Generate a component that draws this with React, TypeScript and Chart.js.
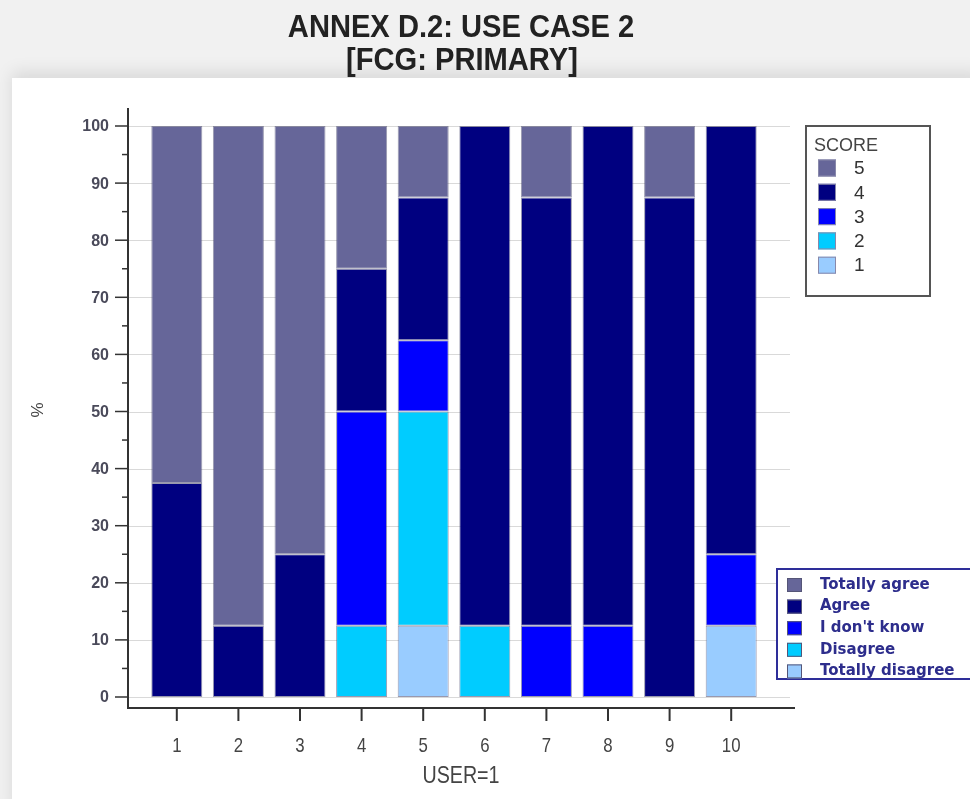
import React, { useEffect, useRef } from "react";
import { Chart, registerables } from "chart.js";

Chart.register(...registerables);

// ---- data ----
const users = ["1", "2", "3", "4", "5", "6", "7", "8", "9", "10"];
const score1 = [0, 0, 0, 0, 12.5, 0, 0, 0, 0, 12.5];
const score2 = [0, 0, 0, 12.5, 37.5, 12.5, 0, 0, 0, 0];
const score3 = [0, 0, 0, 37.5, 12.5, 0, 12.5, 12.5, 0, 12.5];
const score4 = [37.5, 12.5, 25, 25, 25, 87.5, 75, 87.5, 87.5, 75];
const score5 = [62.5, 87.5, 75, 25, 12.5, 0, 12.5, 0, 12.5, 0];
const yTicks = [0, 10, 20, 30, 40, 50, 60, 70, 80, 90, 100];
const scoreNames = ["5", "4", "3", "2", "1"];
const responseNames = ["Totally agree", "Agree", "I don't know", "Disagree", "Totally disagree"];
const titleLines = ["ANNEX D.2: USE CASE 2", "[FCG: PRIMARY]"];
const xTitle = "USER=1";
const yTitle = "%";
const legendTitle = "SCORE";

// colours for score 5..1
const legendColors = ["#666699", "#000080", "#0000ff", "#00ccff", "#99ccff"];

function narrowText(ctx: any, text: string, x: number, y: number, sx: number) {
  ctx.save();
  ctx.translate(x, y);
  ctx.scale(sx, 1);
  ctx.fillText(text, 0, 0);
  ctx.restore();
}

const decorPlugin = {
  id: "decor",
  beforeDatasetsDraw(chart: any) {
    const { ctx, chartArea } = chart;
    const y = chart.scales.y;
    const left = chartArea.left - 18;
    const right = chartArea.right + 28;
    ctx.save();
    ctx.strokeStyle = "#d9d9d9";
    ctx.lineWidth = 1;
    yTicks.forEach((v) => {
      const py = Math.round(y.getPixelForValue(v)) + 0.5;
      ctx.beginPath();
      ctx.moveTo(left, py);
      ctx.lineTo(right, py);
      ctx.stroke();
    });
    ctx.restore();
  },
  afterDraw(chart: any) {
    const { ctx, chartArea } = chart;
    const x = chart.scales.x;
    const y = chart.scales.y;
    const axisX = chartArea.left - 18;
    const axisY = chartArea.bottom + 11;
    const axisTop = chartArea.top - 18;
    const axisRight = chartArea.right + 33;
    ctx.save();
    ctx.strokeStyle = "#333333";
    ctx.lineWidth = 2;
    // axis lines
    ctx.beginPath();
    ctx.moveTo(axisX, axisTop);
    ctx.lineTo(axisX, axisY);
    ctx.lineTo(axisRight, axisY);
    ctx.stroke();
    // y ticks
    ctx.lineWidth = 1.5;
    for (let i = 0; i < yTicks.length; i++) {
      const v = yTicks[i];
      const py = y.getPixelForValue(v);
      ctx.beginPath();
      ctx.moveTo(axisX - 13, py);
      ctx.lineTo(axisX, py);
      ctx.stroke();
      if (i < yTicks.length - 1) {
        const pm = y.getPixelForValue((v + yTicks[i + 1]) / 2);
        ctx.beginPath();
        ctx.moveTo(axisX - 6, pm);
        ctx.lineTo(axisX, pm);
        ctx.stroke();
      }
    }
    ctx.fillStyle = "#4a4a5a";
    ctx.font = "bold 16px 'Liberation Sans', Arial, sans-serif";
    ctx.textAlign = "right";
    ctx.textBaseline = "middle";
    yTicks.forEach((v) => {
      ctx.fillText(String(v), axisX - 19, y.getPixelForValue(v) + 1);
    });
    // x ticks
    ctx.lineWidth = 2;
    users.forEach((u, i) => {
      const px = x.getPixelForValue(i);
      ctx.beginPath();
      ctx.moveTo(px, axisY);
      ctx.lineTo(px, axisY + 13);
      ctx.stroke();
    });
    ctx.font = "21px 'Liberation Sans', Arial, sans-serif";
    ctx.textAlign = "center";
    ctx.fillStyle = "#444444";
    users.forEach((u, i) => {
      narrowText(ctx, u, x.getPixelForValue(i), axisY + 38, 0.8);
    });
    // axis titles
    ctx.font = "24px 'Liberation Sans', Arial, sans-serif";
    narrowText(ctx, xTitle, 461, axisY + 68, 0.82);
    ctx.save();
    ctx.translate(38, 410);
    ctx.rotate(-Math.PI / 2);
    ctx.font = "17px 'Liberation Sans', Arial, sans-serif";
    ctx.fillText(yTitle, 0, 0);
    ctx.restore();

    // chart title
    ctx.fillStyle = "#222222";
    ctx.font = "bold 32px 'Liberation Sans', Arial, sans-serif";
    narrowText(ctx, titleLines[0], 461, 28, 0.91);
    narrowText(ctx, titleLines[1], 462, 61, 0.91);

    // SCORE legend
    ctx.fillStyle = "#ffffff";
    ctx.fillRect(806, 126, 124, 170);
    ctx.strokeStyle = "#555555";
    ctx.lineWidth = 2;
    ctx.strokeRect(806, 126, 124, 170);
    ctx.fillStyle = "#444444";
    ctx.textAlign = "left";
    ctx.font = "18px 'Liberation Sans', Arial, sans-serif";
    ctx.fillText(legendTitle, 814, 146);
    scoreNames.forEach((s, i) => {
      const cy = 168 + i * 24.3;
      ctx.fillStyle = legendColors[i];
      ctx.fillRect(818, cy - 8.5, 18, 17);
      ctx.strokeStyle = "#8888aa";
      ctx.lineWidth = 1;
      ctx.strokeRect(818.5, cy - 8, 17, 16);
      ctx.fillStyle = "#333333";
      ctx.font = "19px 'Liberation Sans', Arial, sans-serif";
      ctx.fillText(s, 854, cy + 1);
    });

    // response legend
    ctx.fillStyle = "#ffffff";
    ctx.fillRect(777, 569, 200, 110);
    ctx.strokeStyle = "#2e2e99";
    ctx.lineWidth = 2;
    ctx.strokeRect(777, 569, 200, 110);
    responseNames.forEach((s, i) => {
      const cy = 585 + i * 21.6;
      ctx.fillStyle = legendColors[i];
      ctx.fillRect(787, cy - 7, 15, 14);
      ctx.strokeStyle = "#555577";
      ctx.lineWidth = 1;
      ctx.strokeRect(787.5, cy - 6.5, 14, 13);
      ctx.fillStyle = "#2d2d8c";
      ctx.font = "bold 15px 'DejaVu Sans', Verdana, sans-serif";
      ctx.fillText(s, 820, cy);
    });
    ctx.restore();
  },
};

export default function App() {
  const canvasRef = useRef<HTMLCanvasElement | null>(null);

  useEffect(() => {
    if (!canvasRef.current) return;
    const mk = (label: string, data: number[], color: string) => ({
      label,
      data,
      backgroundColor: color,
      borderColor: "rgba(70,70,110,0.55)",
      borderWidth: 1,
      borderSkipped: false,
      barPercentage: 0.9,
      categoryPercentage: 0.92,
    });
    const chart = new Chart(canvasRef.current, {
      type: "bar",
      data: {
        labels: users,
        datasets: [
          mk("1", score1, legendColors[4]),
          mk("2", score2, legendColors[3]),
          mk("3", score3, legendColors[2]),
          mk("4", score4, legendColors[1]),
          mk("5", score5, legendColors[0]),
        ],
      },
      options: {
        animation: false,
        responsive: true,
        maintainAspectRatio: false,
        layout: { padding: { left: 146, top: 126, right: 208, bottom: 102 } },
        plugins: { legend: { display: false }, tooltip: { enabled: false }, title: { display: false } },
        scales: {
          x: { stacked: true, display: false, offset: true },
          y: { stacked: true, display: false, min: 0, max: 100 },
        },
      },
      plugins: [decorPlugin],
    });
    return () => chart.destroy();
  }, []);

  return (
    <div style={{ position: "fixed", left: 0, top: 0, width: 970, height: 799, background: "#f1f1f1", overflow: "hidden" }}>
      <div
        style={{
          position: "absolute",
          left: 12,
          top: 78,
          width: 970,
          height: 740,
          background: "#ffffff",
          boxShadow: "0 -6px 16px rgba(0,0,0,0.10)",
        }}
      />
      <div style={{ position: "absolute", left: 0, top: 0, width: 970, height: 799 }}>
        <canvas ref={canvasRef} />
      </div>
    </div>
  );
}
